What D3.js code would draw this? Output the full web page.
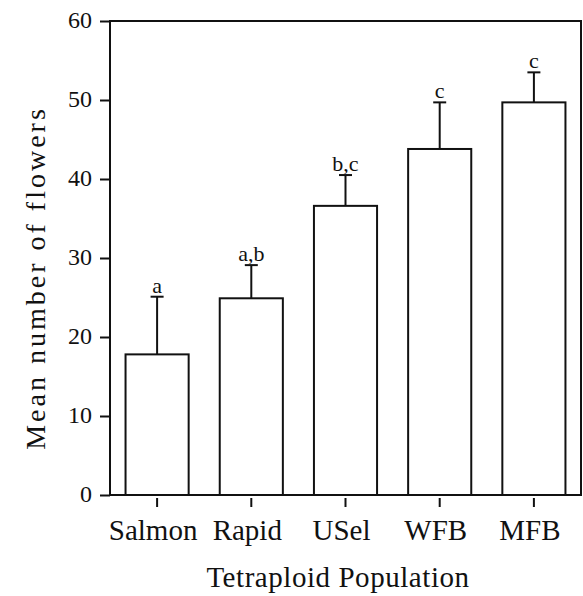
<!DOCTYPE html>
<html>
<head>
<meta charset="utf-8">
<script src="https://cdn.jsdelivr.net/npm/d3@7"></script>
<style>
  body { margin: 0; background: #fff; }
  text { font-family: "Liberation Serif", "DejaVu Serif", serif; fill: #111; }
</style>
</head>
<body>
<div></div>
<script>
var width = 583;
var height = 596;
var margin = { top: 21, right: 2, bottom: 101, left: 110 };

// data
var populations = ["Salmon", "Rapid", "USel", "WFB", "MFB"];
var means = [17.8, 24.9, 36.6, 43.8, 49.7];
var errors = [7.3, 4.2, 3.9, 5.9, 3.8];
var groups = ["a", "a,b", "b,c", "c", "c"];
var yTicks = [0, 10, 20, 30, 40, 50, 60];

var data = populations.map((p, i) => ({ name: p, value: means[i], err: errors[i], group: groups[i] }));

const svg = d3.select("div")
  .append("svg")
  .attr("width", width)
  .attr("height", height);

var x = d3.scaleBand()
  .domain(populations)
  .range([margin.left, width - margin.right])
  .paddingInner(0.33)
  .paddingOuter(0.165);

var y = d3.scaleLinear()
  .domain([0, 60])
  .range([height - margin.bottom, margin.top]);

// frame (box round plot area)
svg.append("rect")
  .attr("x", margin.left)
  .attr("y", margin.top)
  .attr("width", width - margin.right - margin.left)
  .attr("height", y(0) - margin.top)
  .attr("fill", "none")
  .attr("stroke", "#111")
  .attr("stroke-width", 2);

// y axis
var yAxis = svg.append("g")
  .attr("transform", `translate(${margin.left},0)`)
  .call(d3.axisLeft(y).tickValues(yTicks).tickSize(10).tickPadding(8))
  .call((g) => g.select(".domain").remove());
yAxis.selectAll("line").attr("stroke", "#111").attr("stroke-width", 2);
yAxis.selectAll("text")
  .attr("font-size", 24)
  .attr("dy", "0.25em")
  .style("font-family", "Liberation Serif")
  .attr("fill", "#111");

// x axis, ticks sit a bit below the baseline
var xAxis = svg.append("g")
  .attr("transform", `translate(0,${y(0) + 3})`)
  .call(d3.axisBottom(x).tickSize(9).tickPadding(12))
  .call((g) => g.select(".domain").remove());
xAxis.selectAll("line").attr("stroke", "#111").attr("stroke-width", 2);
xAxis.selectAll("text")
  .attr("font-size", 29)
  .attr("dx", -4)
  .style("font-family", "Liberation Serif")
  .attr("fill", "#111");

// bars
svg.append("g")
  .selectAll("rect")
  .data(data)
  .join("rect")
  .attr("x", (d) => x(d.name))
  .attr("y", (d) => y(d.value))
  .attr("width", x.bandwidth())
  .attr("height", (d) => y(0) - y(d.value))
  .attr("fill", "#fff")
  .attr("stroke", "#111")
  .attr("stroke-width", 2);

// error bars (upper only)
var eb = svg.append("g").attr("stroke", "#111").attr("stroke-width", 2);
eb.selectAll(".stem")
  .data(data)
  .join("line")
  .attr("x1", (d) => x(d.name) + x.bandwidth() / 2)
  .attr("x2", (d) => x(d.name) + x.bandwidth() / 2)
  .attr("y1", (d) => y(d.value))
  .attr("y2", (d) => y(d.value + d.err));
eb.selectAll(".cap")
  .data(data)
  .join("line")
  .attr("x1", (d) => x(d.name) + x.bandwidth() / 2 - 6.5)
  .attr("x2", (d) => x(d.name) + x.bandwidth() / 2 + 6.5)
  .attr("y1", (d) => y(d.value + d.err))
  .attr("y2", (d) => y(d.value + d.err));

// significance letters
svg.append("g")
  .selectAll("text")
  .data(data)
  .join("text")
  .attr("x", (d) => x(d.name) + x.bandwidth() / 2)
  .attr("y", (d) => y(d.value + d.err) - 4)
  .attr("text-anchor", "middle")
  .attr("font-size", 22)
  .text((d) => d.group);

// axis titles
svg.append("text")
  .attr("x", 338)
  .attr("y", 587)
  .attr("text-anchor", "middle")
  .attr("font-size", 29)
  .attr("letter-spacing", 0.55)
  .text("Tetraploid Population");

svg.append("text")
  .attr("transform", `translate(45,278) rotate(-90)`)
  .attr("text-anchor", "middle")
  .attr("font-size", 28)
  .attr("letter-spacing", 3)
  .text("Mean number of flowers");
</script>
</body>
</html>
